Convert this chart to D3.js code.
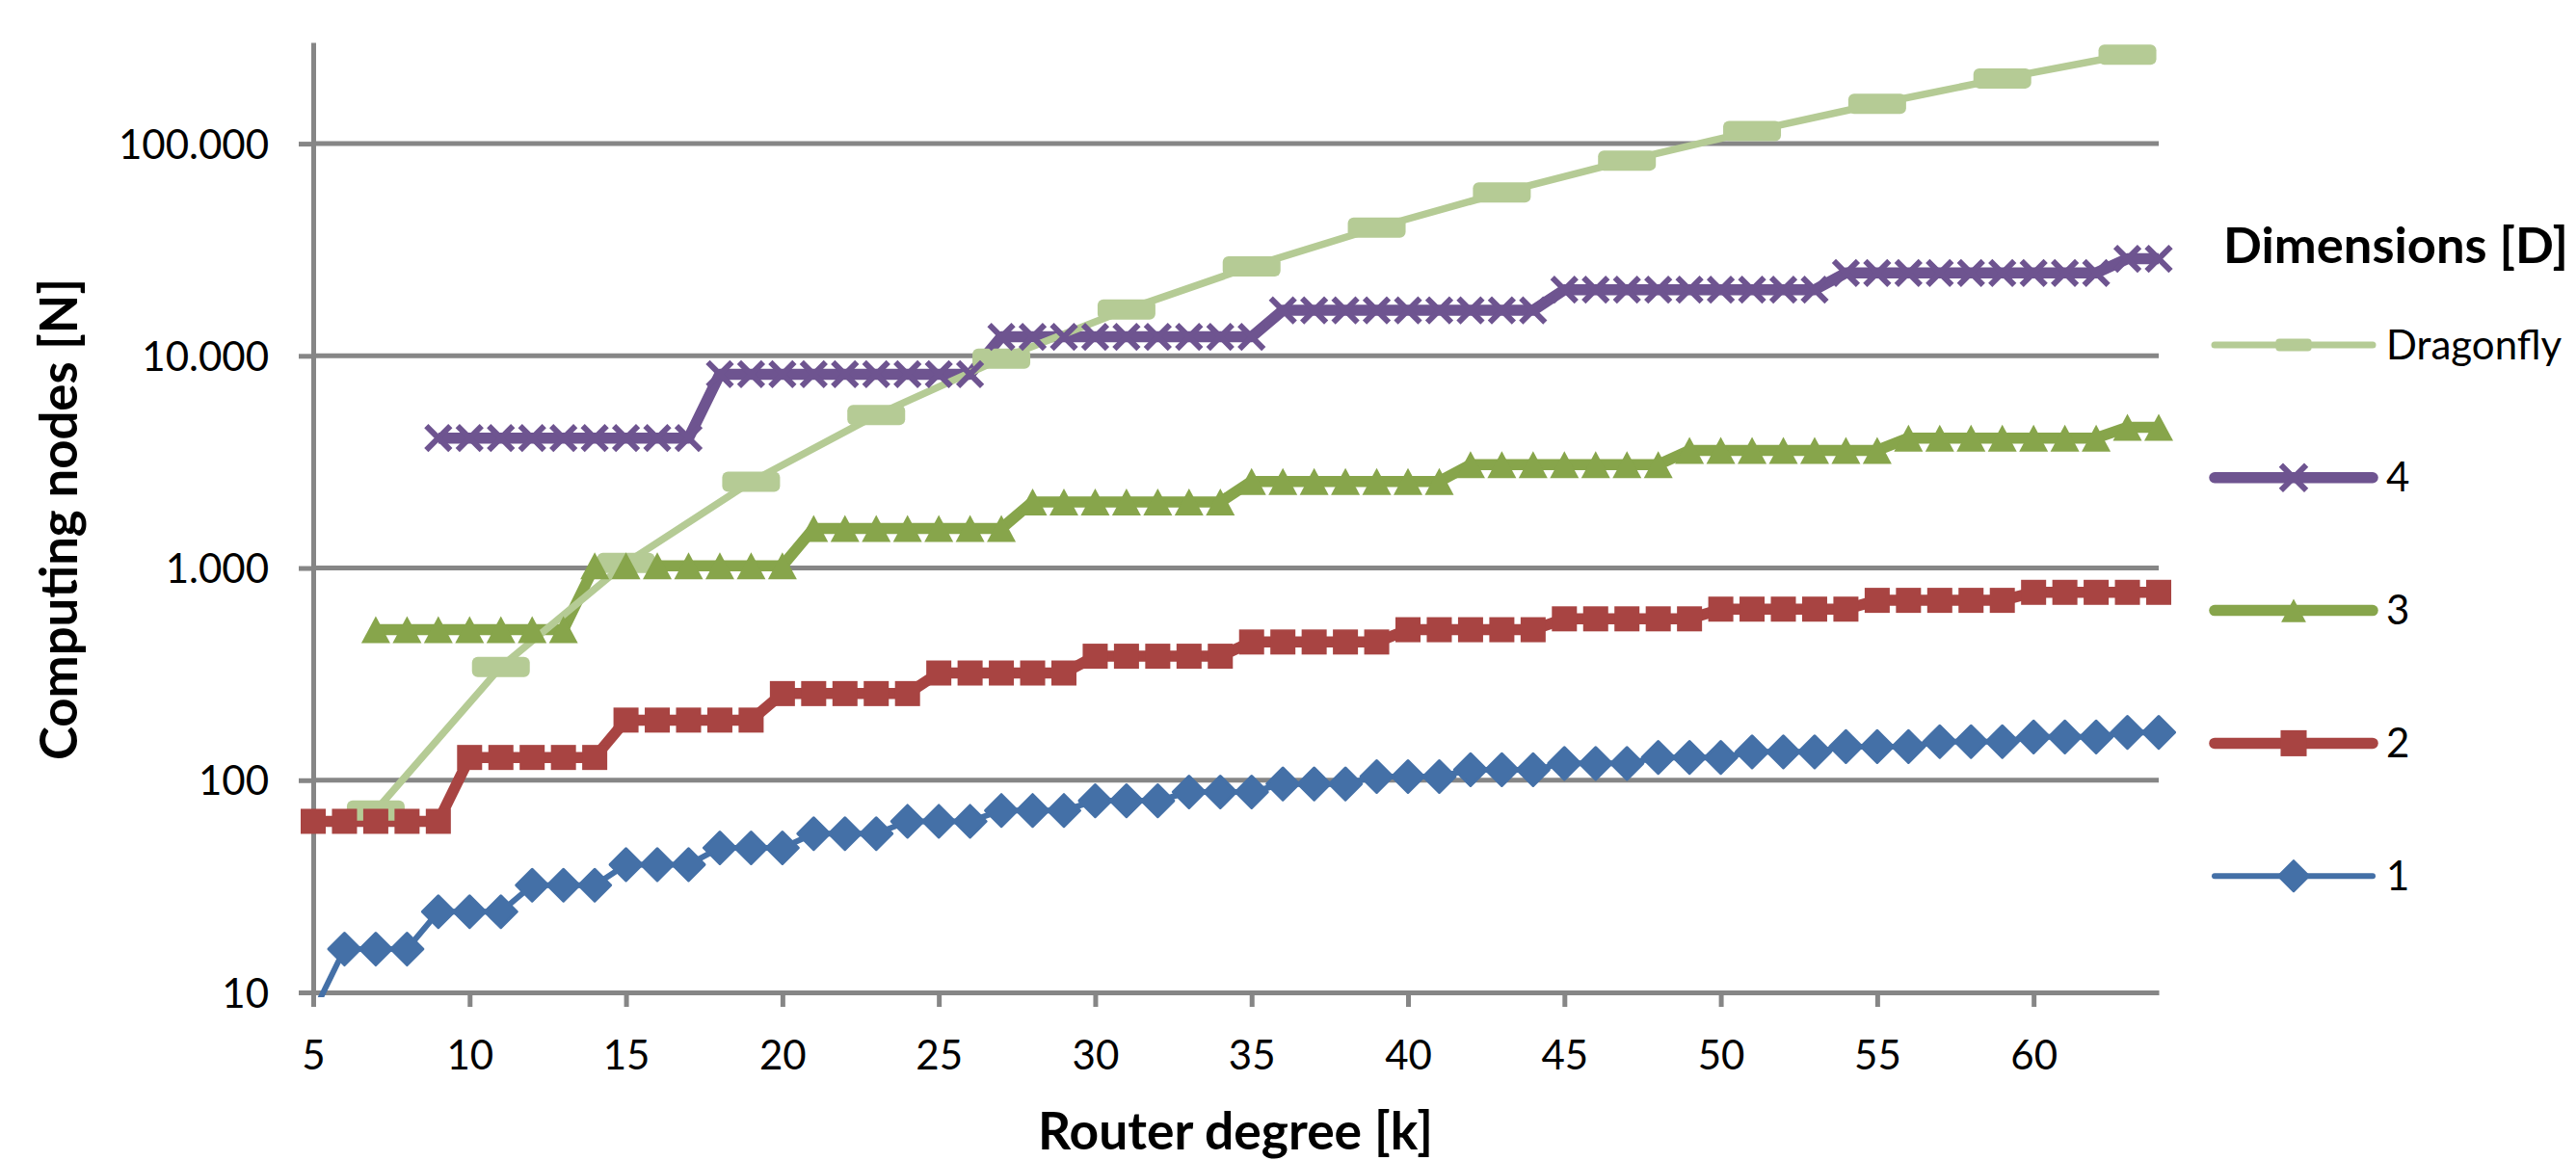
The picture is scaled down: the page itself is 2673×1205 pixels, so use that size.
<!DOCTYPE html>
<html>
<head>
<meta charset="utf-8">
<script src="https://cdn.jsdelivr.net/npm/d3@7"></script>
<style>
  body { margin: 0; background: #ffffff; }
  text { font-family: Lato, 'Open Sans', sans-serif; fill: #000000; }
</style>
</head>
<body>
<svg id="chart" width="2673" height="1205"></svg>
<script>
// router degree k (x categories)
const degrees = [5, 6, 7, 8, 9, 10, 11, 12, 13, 14, 15, 16, 17, 18, 19, 20, 21, 22, 23, 24,
  25, 26, 27, 28, 29, 30, 31, 32, 33, 34, 35, 36, 37, 38, 39, 40, 41, 42, 43, 44,
  45, 46, 47, 48, 49, 50, 51, 52, 53, 54, 55, 56, 57, 58, 59, 60, 61, 62, 63, 64]

// computing nodes per dimension, one value per degree (null = no point)
const dim1 = [8, 16, 16, 16, 24, 24, 24, 32, 32, 32, 40, 40, 40, 48, 48, 48, 56, 56, 56, 64,
  64, 64, 72, 72, 72, 80, 80, 80, 88, 88, 88, 96, 96, 96, 104, 104, 104, 112, 112, 112,
  120, 120, 120, 128, 128, 128, 136, 136, 136, 144, 144, 144, 152, 152, 152, 160, 160, 160, 168, 168]
const dim2 = [64, 64, 64, 64, 64, 128, 128, 128, 128, 128, 192, 192, 192, 192, 192, 256, 256, 256, 256, 256,
  320, 320, 320, 320, 320, 384, 384, 384, 384, 384, 448, 448, 448, 448, 448, 512, 512, 512, 512, 512,
  576, 576, 576, 576, 576, 640, 640, 640, 640, 640, 704, 704, 704, 704, 704, 768, 768, 768, 768, 768]
const dim3 = [null, null, 512, 512, 512, 512, 512, 512, 512, 1024, 1024, 1024, 1024, 1024, 1024, 1024,
  1536, 1536, 1536, 1536, 1536, 1536, 1536, 2048, 2048, 2048, 2048, 2048, 2048, 2048,
  2560, 2560, 2560, 2560, 2560, 2560, 2560, 3072, 3072, 3072, 3072, 3072, 3072, 3072,
  3584, 3584, 3584, 3584, 3584, 3584, 3584, 4096, 4096, 4096, 4096, 4096, 4096, 4096, 4608, 4608]
const dim4 = [null, null, null, null, 4096, 4096, 4096, 4096, 4096, 4096, 4096, 4096, 4096,
  8192, 8192, 8192, 8192, 8192, 8192, 8192, 8192, 8192,
  12288, 12288, 12288, 12288, 12288, 12288, 12288, 12288, 12288,
  16384, 16384, 16384, 16384, 16384, 16384, 16384, 16384, 16384,
  20480, 20480, 20480, 20480, 20480, 20480, 20480, 20480, 20480,
  24576, 24576, 24576, 24576, 24576, 24576, 24576, 24576, 24576, 28672, 28672]

// dragonfly has its own degrees
const dragonflyDegrees = [7, 11, 15, 19, 23, 27, 31, 35, 39, 43, 47, 51, 55, 59, 63]
const dragonflyNodes = [72, 342, 1056, 2550, 5256, 9702, 16512, 26406, 40200, 58806,
  83232, 114582, 154056, 202950, 262656]

const xTicks = [5, 10, 15, 20, 25, 30, 35, 40, 45, 50, 55, 60]
const yTicks = [10, 100, 1000, 10000, 100000]
const legendNames = ['Dragonfly', '4', '3', '2', '1']

const gridColor = '#868686'

var svg = d3.select('#chart')
var x = d3.scaleLinear().domain([5, 64]).range([325, 2240])
var y = d3.scaleLog().domain([10, 300000]).range([1030, 44])

var locale = d3.formatLocale({ decimal: ',', thousands: '.', grouping: [3], currency: ['', ''] })
var fmt = locale.format(',')

function toPoints (values) {
  return degrees.map((k, i) => ({ k: k, v: values[i] })).filter(d => d.v != null)
}

var series = [
  { name: '1', points: toPoints(dim1), color: '#4470a7', width: 6, marker: 'diamond', legendScale: 0.94 },
  { name: '2', points: toPoints(dim2), color: '#a84442', width: 11.5, marker: 'square', legendScale: 1.04 },
  { name: '3', points: toPoints(dim3), color: '#87a54b', width: 11.5, marker: 'triangle', legendScale: 0.86 },
  { name: '4', points: toPoints(dim4), color: '#6e5490', width: 11.5, marker: 'cross', legendScale: 1.05 },
  {
    name: 'Dragonfly',
    points: dragonflyDegrees.map((k, i) => ({ k: k, v: dragonflyNodes[i] })),
    color: '#b5cb95',
    width: 7.5,
    marker: 'pill',
    legendScale: 0.62
  }
]

/**
 * Appends one marker shape centred on 0,0
 *
 * @param {*} g selection to draw in
 * @param {string} type marker type
 * @param {string} color fill colour
 * @param {number} s size factor
 */
function appendMarker (g, type, color, s) {
  if (type === 'diamond') {
    var r = 16.5 * s
    g.append('path')
      .attr('d', `M0,${-r}L${r},0L0,${r}L${-r},0Z`)
      .attr('fill', color).attr('stroke', color)
      .attr('stroke-width', 3).attr('stroke-linejoin', 'round')
  } else if (type === 'square') {
    g.append('rect')
      .attr('x', -13 * s).attr('y', -13 * s)
      .attr('width', 26 * s).attr('height', 26 * s)
      .attr('fill', color)
  } else if (type === 'triangle') {
    g.append('path')
      .attr('d', `M0,${-14 * s}L${15 * s},${14 * s}L${-15 * s},${14 * s}Z`)
      .attr('fill', color)
  } else if (type === 'cross') {
    var a = 12.5 * s
    g.append('path')
      .attr('d', `M${-a},${-a}L${a},${a}M${a},${-a}L${-a},${a}`)
      .attr('stroke', color).attr('stroke-width', 6 * Math.min(1, s)).attr('fill', 'none')
  } else if (type === 'pill') {
    g.append('rect')
      .attr('x', -30 * s).attr('y', -10.5 * s)
      .attr('width', 60 * s).attr('height', 21 * s)
      .attr('rx', 6 * s)
      .attr('fill', color)
  }
}

/**
 * Sets the font size so that the text gets the wanted width
 *
 * @param {*} text d3 text selection
 * @param {number} target width in px
 */
function fitWidth (text, target) {
  var size = parseFloat(text.attr('font-size'))
  var w = text.node().getComputedTextLength()
  text.attr('font-size', size * target / w)
}

// gridlines
svg.append('g')
  .selectAll('line')
  .data(yTicks.slice(1))
  .enter()
  .append('line')
  .attr('x1', x(5)).attr('x2', x(64))
  .attr('y1', d => y(d)).attr('y2', d => y(d))
  .attr('stroke', gridColor).attr('stroke-width', 5)

// axes
var xAxis = svg.append('g')
  .attr('transform', `translate(0,${y(10)})`)
  .call(d3.axisBottom(x).tickValues(xTicks).tickSize(15).tickSizeOuter(0))
var yAxis = svg.append('g')
  .attr('transform', `translate(${x(5)},0)`)
  .call(d3.axisLeft(y).tickValues(yTicks).tickFormat(fmt).tickSize(15).tickSizeOuter(0).tickPadding(31))

;[xAxis, yAxis].forEach(function (ax) {
  ax.select('.domain').attr('stroke', gridColor).attr('stroke-width', 5)
  ax.selectAll('.tick line').attr('stroke', gridColor).attr('stroke-width', 5)
  ax.selectAll('.tick text')
    .attr('font-family', null)
    .attr('font-size', 42)
    .attr('fill', '#000000')
})
xAxis.selectAll('.tick text').attr('y', 80).attr('dy', null)
yAxis.selectAll('.tick text').attr('dy', '0.36em')

// axis titles
var yTitle = svg.append('text')
  .attr('transform', 'translate(80,539) rotate(-90)')
  .attr('text-anchor', 'middle')
  .attr('font-weight', 'bold')
  .attr('font-size', 48)
  .text('Computing nodes [N]')
fitWidth(yTitle, 500)

var xTitle = svg.append('text')
  .attr('x', 1282).attr('y', 1193)
  .attr('text-anchor', 'middle')
  .attr('font-weight', 'bold')
  .attr('font-size', 48)
  .text('Router degree [k]')
fitWidth(xTitle, 410)

// series
svg.append('clipPath').attr('id', 'plotClip')
  .append('rect')
  .attr('x', 300).attr('y', 0)
  .attr('width', 2000).attr('height', 1035)

var line = d3.line()
  .x(d => x(d.k))
  .y(d => y(d.v))

var linesG = svg.append('g').attr('clip-path', 'url(#plotClip)')
series.forEach(function (s) {
  linesG.append('path')
    .datum(s.points)
    .attr('d', line)
    .attr('fill', 'none')
    .attr('stroke', s.color)
    .attr('stroke-width', s.width)
    .attr('stroke-linejoin', 'round')
})

// markers: dragonfly first, the dimensions on top
var markerOrder = [series[4], series[0], series[1], series[2], series[3]]
markerOrder.forEach(function (s) {
  svg.append('g')
    .selectAll('g')
    .data(s.points.filter(d => d.v >= 10))
    .enter()
    .append('g')
    .attr('transform', d => `translate(${x(d.k)},${y(d.v)})`)
    .each(function () { appendMarker(d3.select(this), s.marker, s.color, 1) })
})

// legend
var legend = svg.append('g')
var legendTitle = legend.append('text')
  .attr('x', 2307).attr('y', 273)
  .attr('font-weight', 'bold')
  .attr('font-size', 48)
  .text('Dimensions [D]')
fitWidth(legendTitle, 358)

legendNames.forEach(function (name, i) {
  var s = series.find(d => d.name === name)
  var ly = 358 + i * 137.8
  legend.append('line')
    .attr('x1', 2298).attr('x2', 2462)
    .attr('y1', ly).attr('y2', ly)
    .attr('stroke', s.color)
    .attr('stroke-width', s.name === 'Dragonfly' ? 7 : s.width)
    .attr('stroke-linecap', 'round')
  var m = legend.append('g').attr('transform', `translate(2380,${ly})`)
  appendMarker(m, s.marker, s.color, s.legendScale)
  legend.append('text')
    .attr('x', 2476).attr('y', ly + 14.5)
    .attr('font-size', 42)
    .text(name)
})
</script>
</body>
</html>
